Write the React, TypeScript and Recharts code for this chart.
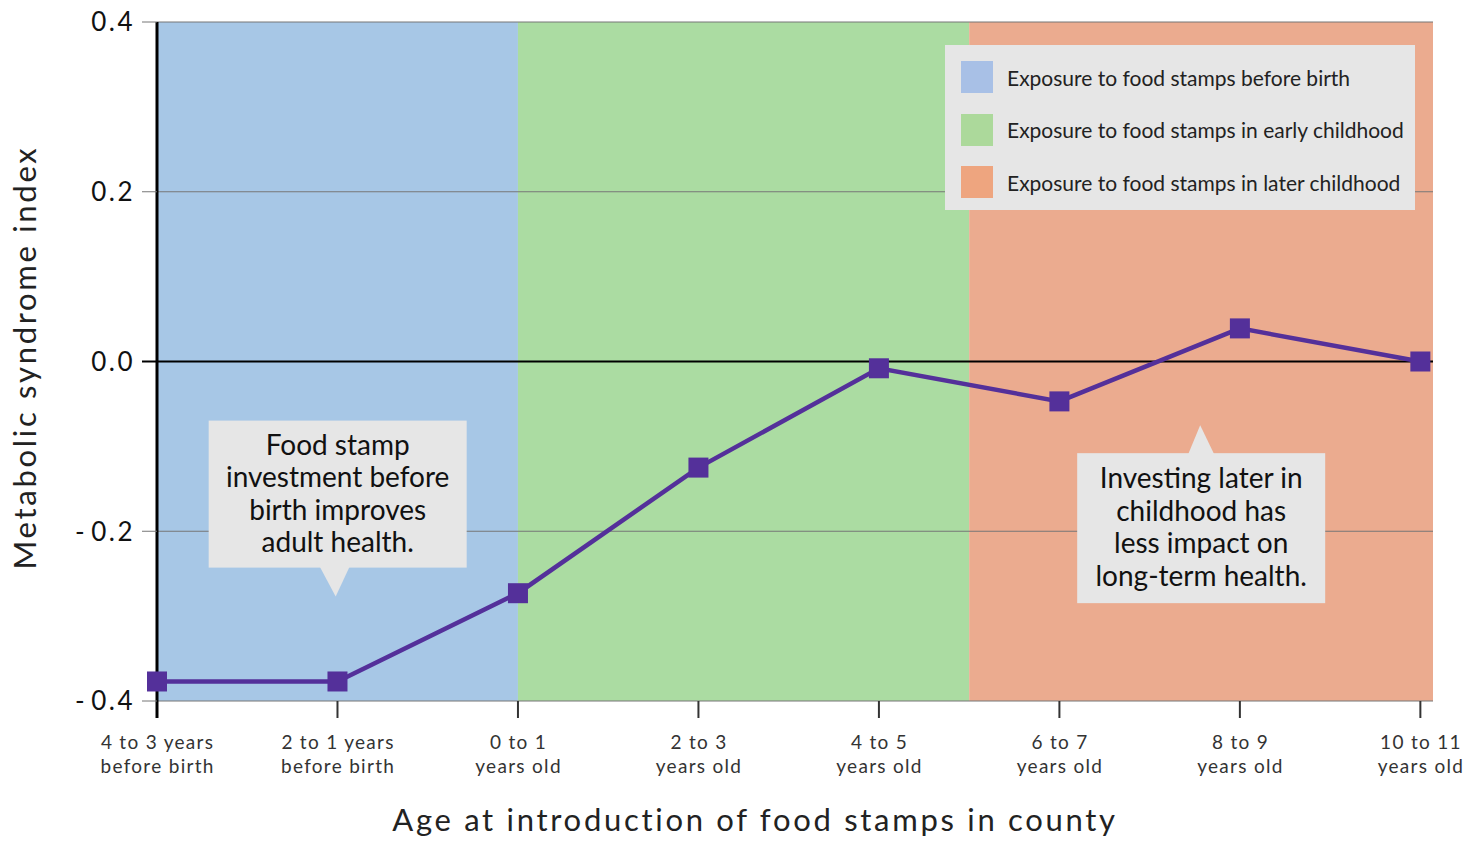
import React from 'react';
import { ComposedChart, Line, XAxis, YAxis, ReferenceArea, ReferenceLine, ReferenceDot, Legend, Label } from 'recharts';

const categories = [
    ['4 to 3 years', 'before birth'],
    ['2 to 1 years', 'before birth'],
    ['0 to 1', 'years old'],
    ['2 to 3', 'years old'],
    ['4 to 5', 'years old'],
    ['6 to 7', 'years old'],
    ['8 to 9', 'years old'],
    ['10 to 11', 'years old'],
];

const metabolicIndex = [-0.377, -0.377, -0.273, -0.125, -0.008, -0.047, 0.039, 0.0];

const yTicks = [-0.4, -0.2, 0, 0.2, 0.4];
const gridValues = [-0.4, -0.2, 0.2, 0.4];
const xTicks = categories.map((_, i) => i);
const xMax = 7.07;

const bands = [
    { label: 'Exposure to food stamps before birth', from: 0, to: 2, fill: '#a7c7e6', swatch: '#a8c0e6' },
    { label: 'Exposure to food stamps in early childhood', from: 2, to: 4.5, fill: '#abdca2', swatch: '#acd99b' },
    { label: 'Exposure to food stamps in later childhood', from: 4.5, to: xMax, fill: '#ebab8f', swatch: '#eea57f' },
];

const noteBefore = ['Food stamp', 'investment before', 'birth improves', 'adult health.'];
const noteLater = ['Investing later in', 'childhood has', 'less impact on', 'long-term health.'];
// where each callout's pointer touches the chart (x index, y value)
const noteBeforeAnchor = { x: 0.99, y: -0.277 };
const noteLaterAnchor = { x: 5.78, y: -0.075 };

const data = metabolicIndex.map((v, i) => ({ x: i, value: v }));

const FONT = 'Lato, "DejaVu Sans", sans-serif';
const LINE_COLOR = '#54309a';

const YTick = ({ x, y, payload }: any) => {
    const v = payload.value;
    const isZero = Math.abs(v) < 1e-9;
    const text = v < 0 ? `-\u200a${Math.abs(v).toFixed(1)}` : v.toFixed(1);
    return (
        <g>
            <line x1={x + 9} x2={x + 24} y1={y} y2={y} stroke={isZero ? '#000' : '#777'} strokeWidth={isZero ? 2 : 1} />
            <text x={x + 2} y={y} dy="0.36em" textAnchor="end" fontSize={26} letterSpacing={2.5} fill="#111" fontFamily={FONT}>{text}</text>
        </g>
    );
};

const XTick = ({ x, y, payload }: any) => {
    const lines = categories[payload.value] || ['', ''];
    const first = payload.value === 0;
    const style = { fontSize: 19, letterSpacing: 1.3, fill: '#333', fontFamily: FONT };
    return (
        <g>
            <line x1={x} x2={x} y1={y - 17} y2={y} stroke={first ? '#000' : '#333'} strokeWidth={first ? 3 : 2} />
            <text x={x + 0.6} y={y + 31} textAnchor="middle" {...style}>{lines[0]}</text>
            <text x={x + 0.6} y={y + 55} textAnchor="middle" {...style}>{lines[1]}</text>
        </g>
    );
};

const Callout = ({ cx, cy, lines, up }: any) => {
    // up = pointer on top of the box, otherwise below it
    const w = up ? 248 : 258;
    const h = up ? 150 : 147;
    const left = up ? cx - 123 : cx - 127;
    const top = up ? cy + 28 : cy - 29 - h;
    const baseY = up ? top : top + h;
    const tri = up
        ? `${cx - 12},${baseY + 1} ${cx},${cy} ${cx + 14},${baseY + 1}`
        : `${cx - 16},${baseY - 1} ${cx},${cy} ${cx + 14},${baseY - 1}`;
    const textX = left + w / 2;
    const firstBase = up ? top + 35 : top + 34;
    return (
        <g>
            <rect x={left} y={top} width={w} height={h} fill="#e6e6e6" />
            <polygon points={tri} fill="#e6e6e6" />
            {lines.map((l: string, i: number) => (
                <text key={l} x={textX} y={firstBase + i * 32.5} textAnchor="middle" fontSize={28} fill="#111" fontFamily={FONT}>{l}</text>
            ))}
        </g>
    );
};

const BandLegend = () => (
    <div style={{ background: '#e6e6e6', width: 470, height: 165, boxSizing: 'border-box', padding: '16px 0 0 16px', fontFamily: FONT }}>
        {bands.map((b) => (
            <div key={b.label} style={{ display: 'flex', alignItems: 'center', height: 32, marginBottom: 20.5 }}>
                <div style={{ width: 32, height: 32, background: b.swatch, marginRight: 14 }} />
                <span style={{ fontSize: 21, color: '#222' }}>{b.label}</span>
            </div>
        ))}
    </div>
);

const YTitle = ({ viewBox }: any) => {
    const x = viewBox.x + 16;
    const y = viewBox.y + viewBox.height / 2 - 4;
    return (
        <text x={x} y={y} transform={`rotate(-90, ${x}, ${y})`} textAnchor="middle" dominantBaseline="central" fontSize={31} letterSpacing={2.7} fill="#222" fontFamily={FONT}>
            Metabolic syndrome index
        </text>
    );
};

const XTitle = ({ viewBox }: any) => {
    const x = viewBox.x + viewBox.width / 2 - 40;
    return (
        <text x={x} y={823} textAnchor="middle" fontSize={31} letterSpacing={2.7} fill="#222" fontFamily={FONT}>
            Age at introduction of food stamps in county
        </text>
    );
};

export default function App() {
    return (
        <div style={{ width: 1463, height: 830 }}>
            <style>{'svg { overflow: visible; }'}</style>
            <ComposedChart width={1463} height={830} data={data} margin={{ top: 14, right: 38, left: 0, bottom: 0 }}>
                {bands.map((b) => (
                    <ReferenceArea key={b.label} x1={b.from} x2={b.to} y1={-0.4} y2={0.4} fill={b.fill} fillOpacity={1} stroke="none" ifOverflow="hidden" />
                ))}
                {gridValues.map((v) => (
                    <ReferenceLine key={v} y={v} stroke="#777" strokeWidth={1} />
                ))}
                <ReferenceLine y={0} stroke="#000" strokeWidth={2} />
                <XAxis
                    type="number"
                    dataKey="x"
                    domain={[0, xMax]}
                    ticks={xTicks}
                    interval={0}
                    axisLine={false}
                    tickLine={false}
                    tickSize={17}
                    tickMargin={0}
                    height={137}
                    tick={<XTick />}
                >
                    <Label content={<XTitle />} />
                </XAxis>
                <YAxis
                    type="number"
                    domain={[-0.4, 0.4]}
                    ticks={yTicks}
                    interval={0}
                    width={149}
                    axisLine={{ stroke: '#000', strokeWidth: 3 }}
                    tickLine={false}
                    tickSize={15}
                    tickMargin={9}
                    tick={<YTick />}
                >
                    <Label content={<YTitle />} />
                </YAxis>
                <Line
                    type="linear"
                    dataKey="value"
                    stroke={LINE_COLOR}
                    strokeWidth={4.5}
                    isAnimationActive={false}
                    zIndex={600}
                    dot={(p: any) => <rect key={p.index} x={p.cx - 10} y={p.cy - 10} width={20} height={20} fill={LINE_COLOR} />}
                    activeDot={false}
                />
                <ReferenceDot x={noteBeforeAnchor.x} y={noteBeforeAnchor.y} shape={(p: any) => <Callout cx={p.cx} cy={p.cy} lines={noteBefore} up={false} />} />
                <ReferenceDot x={noteLaterAnchor.x} y={noteLaterAnchor.y} shape={(p: any) => <Callout cx={p.cx} cy={p.cy} lines={noteLater} up />} />
                <Legend
                    layout="vertical"
                    align="center"
                    verticalAlign="middle"
                    content={<BandLegend />}
                    wrapperStyle={{ left: 937, top: 37, width: 470, height: 165 }}
                />
            </ComposedChart>
        </div>
    );
}
